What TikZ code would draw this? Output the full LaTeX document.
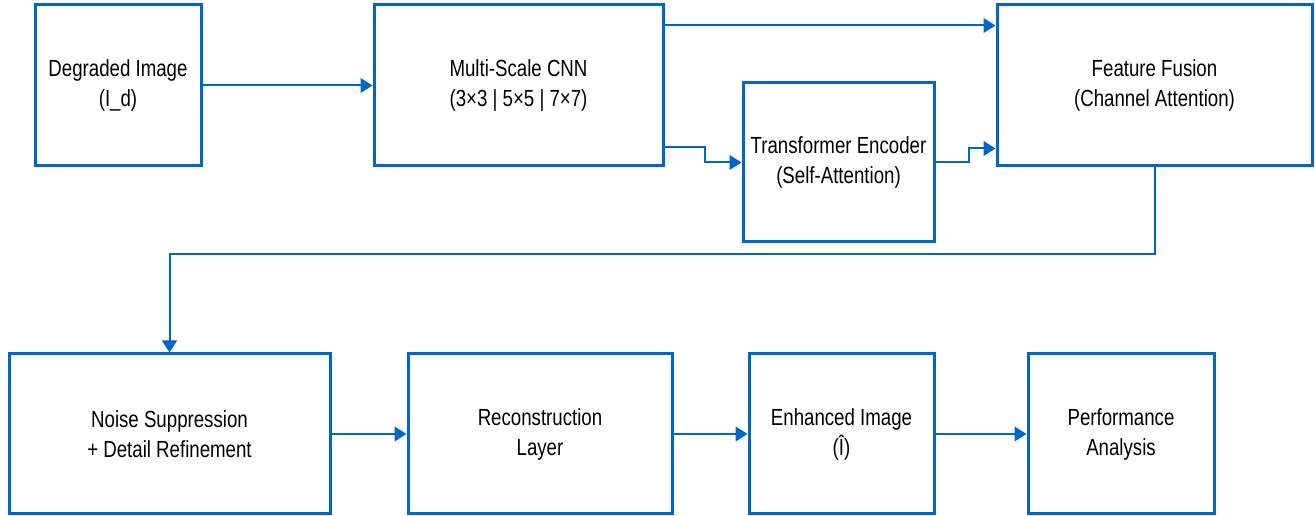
\documentclass[tikz,border=0pt]{standalone}
\usepackage{fontspec}
\setmainfont{Liberation Sans}[FakeStretch=0.8]
\usetikzlibrary{arrows.meta}
\definecolor{boxblue}{RGB}{0,102,204}

\begin{document}
\begin{tikzpicture}[x=0.75pt,y=-0.75pt,
    block/.style={draw=boxblue, line width=2.25pt, align=center, inner sep=0pt,
        font=\fontsize{17.5}{22.5}\selectfont},
    flow/.style={draw=boxblue, line width=1.5pt, -{Triangle[length=9pt,width=11pt]}}]
    \useasboundingbox (0,0) rectangle (1315,516);

    % top row
    \node[block, minimum width=124.5pt, minimum height=120.75pt] (degraded) at (118,85.5) {Degraded Image\\(I\_d)};
    \node[block, minimum width=216.75pt, minimum height=120.75pt] (cnn) at (518.5,85.5) {Multi-Scale CNN\\(3×3 | 5×5 | 7×7)};
    \node[block, minimum width=143.25pt, minimum height=119.25pt] (encoder) at (838.5,162.5) {Transformer Encoder\\(Self-Attention)};
    \node[block, minimum width=236.25pt, minimum height=120.75pt] (fusion) at (1154.5,85.5) {Feature Fusion\\(Channel Attention)};

    % bottom row
    \node[block, minimum width=240.75pt, minimum height=120pt] (noise) at (169.5,434) {Noise Suppression\\+ Detail Refinement};
    \node[block, minimum width=198pt, minimum height=120pt] (recon) at (540,434) {Reconstruction\\Layer};
    \node[block, minimum width=138.75pt, minimum height=120pt] (enhanced) at (841.5,434) {Enhanced Image\\(Î)};
    \node[block, minimum width=139.5pt, minimum height=120pt] (perf) at (1121,434) {Performance\\Analysis};

    \draw[flow] (degraded) -- (cnn);
    \draw[flow] ([yshift=-16.5pt]cnn.north east) -- ([yshift=-16.5pt]fusion.north west);
    \draw[flow] ([yshift=15pt]cnn.south east) -- ++(40,0) |- (encoder.west);
    \draw[flow] (encoder.east) -- ++(33,0) |- ([yshift=14.25pt]fusion.south west);
    \draw[flow] (fusion.south) -- ++(0,87) -| (noise.north);
    \draw[flow] (noise) -- (recon);
    \draw[flow] (recon) -- (enhanced);
    \draw[flow] (enhanced) -- (perf);
\end{tikzpicture}
\end{document}
